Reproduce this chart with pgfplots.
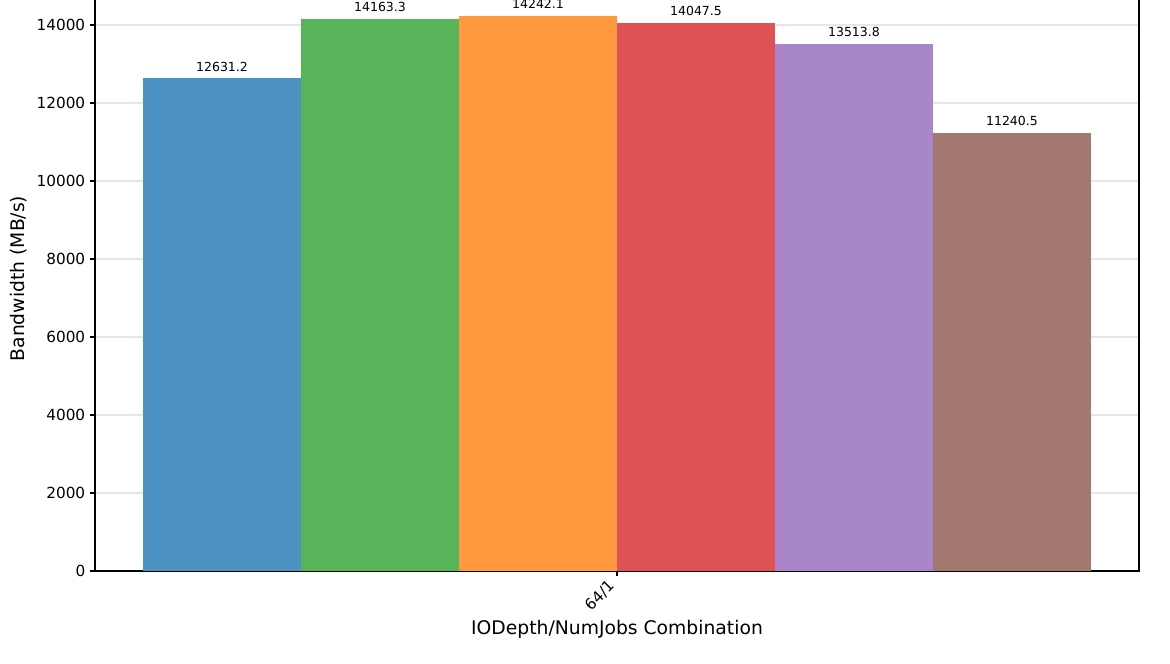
\documentclass[border=0pt]{standalone}
\usepackage{pgfplots}
\pgfplotsset{compat=1.18}
\usepackage{fontspec}
\setmainfont{DejaVu Sans}
\definecolor{c1}{RGB}{76,146,195}
\definecolor{c2}{RGB}{88,180,88}
\definecolor{c3}{RGB}{255,152,62}
\definecolor{c4}{RGB}{222,82,83}
\definecolor{c5}{RGB}{169,134,201}
\definecolor{c6}{RGB}{163,121,111}
\definecolor{gridc}{RGB}{230,230,230}
\begin{document}
\begin{tikzpicture}
\begin{axis}[
  scale only axis, width=751.68pt, height=421.2pt,
  xmin=-3.304, xmax=3.304, ymin=0, ymax=15000,
  xtick={0}, xticklabels={\rotatebox{45}{64/1}},
  xticklabel style={anchor=north east, inner sep=2pt, xshift=2pt, font=\fontsize{11}{13}\selectfont},
  ytick={0,2000,...,14000}, scaled y ticks=false,
  yticklabel style={/pgf/number format/1000 sep={}, font=\fontsize{11}{13}\selectfont},
  /pgf/number format/assume math mode=true,
  tick align=outside, xtick pos=bottom, ytick pos=left,
  major tick length=3.5pt,
  tick style={black, line width=0.8pt},
  axis line style={line width=0.8pt},
  ymajorgrids, grid style={gridc, line width=0.8pt},
  ylabel={Bandwidth (MB/s)}, xlabel={IODepth/NumJobs Combination},
  label style={font=\fontsize{13.5}{16}\selectfont},
  point meta=explicit symbolic,
  nodes near coords,
  every node near coord/.append style={font=\fontsize{9}{11}\selectfont, anchor=south, yshift=1.5pt},
]
\addplot[ybar, bar width=1, bar shift=0pt, fill=c1, draw=none] coordinates {(-2.5,12631.2) [12631.2]};
\addplot[ybar, bar width=1, bar shift=0pt, fill=c2, draw=none] coordinates {(-1.5,14163.3) [14163.3]};
\addplot[ybar, bar width=1, bar shift=0pt, fill=c3, draw=none] coordinates {(-0.5,14242.1) [14242.1]};
\addplot[ybar, bar width=1, bar shift=0pt, fill=c4, draw=none] coordinates {(0.5,14047.5) [14047.5]};
\addplot[ybar, bar width=1, bar shift=0pt, fill=c5, draw=none] coordinates {(1.5,13513.8) [13513.8]};
\addplot[ybar, bar width=1, bar shift=0pt, fill=c6, draw=none] coordinates {(2.5,11240.5) [11240.5]};
\coordinate (topref) at (axis cs:0,14641);
\end{axis}
\pgfresetboundingbox
\path[use as bounding box] ([xshift=-68.4pt,yshift=-66.24pt]current axis.south west) rectangle ([xshift=22.32pt]current axis.east |- topref);
\end{tikzpicture}
\end{document}
